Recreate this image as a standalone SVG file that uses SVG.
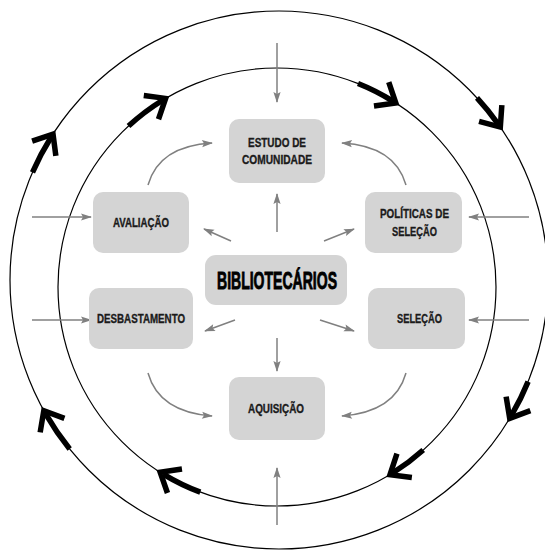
<svg xmlns="http://www.w3.org/2000/svg" width="545" height="550" viewBox="0 0 545 550">
<style>
.ring{fill:none;stroke:#000;stroke-width:1.2}
.flow{fill:none;stroke:#000;stroke-width:5.5;marker-end:url(#chev)}
.g{fill:none;stroke:#808080;stroke-width:1.5;marker-end:url(#ga)}
.box{fill:#d4d4d4}
.t{font-family:"Liberation Sans Narrow","Liberation Sans",Arial,sans-serif;font-weight:bold;font-size:13px;fill:#1a1a1a;stroke:#1a1a1a;stroke-width:0.35;text-anchor:middle}
.big{font-size:24px;fill:#000;stroke:#000;stroke-width:0.9}
</style>
<defs>
<marker id="ga" markerUnits="userSpaceOnUse" viewBox="-12 -5 14 10" markerWidth="14" markerHeight="10" refX="0" refY="0" orient="auto" overflow="visible">
<path d="M1,0 L-10,-3.6 L-8,0 L-10,3.6 Z" fill="#808080"/>
</marker>
<marker id="chev" markerUnits="userSpaceOnUse" viewBox="-20 -20 40 40" markerWidth="40" markerHeight="40" refX="0" refY="0" orient="auto" overflow="visible">
<path d="M-13,-14 L4,0 L-13,14" fill="none" stroke="#000" stroke-width="5.5" stroke-linejoin="miter" stroke-miterlimit="6"/>
</marker>
</defs>

<g id="rings">
<circle class="ring" cx="279" cy="280" r="269"/>
<circle class="ring" cx="277" cy="287" r="219"/>
</g>

<g id="connectors">
<path class="flow" d="M128.5,126.1 A219,219 0 0 1 162.2,100.5"/>
<path class="flow" d="M358.0,83.5 A219,219 0 0 1 392.4,100.9"/>
<path class="flow" d="M423.2,450.0 A219,219 0 0 1 393.4,472.5"/>
<path class="flow" d="M200.3,492.1 A219,219 0 0 1 163.6,474.3"/>
<path class="flow" d="M32.5,172.3 A269,269 0 0 1 50.9,137.5"/>
<path class="flow" d="M477.0,97.9 A269,269 0 0 1 498.0,123.8"/>
<path class="flow" d="M528.1,381.6 A269,269 0 0 1 511.7,414.9"/>
<path class="flow" d="M69.7,448.9 A269,269 0 0 1 45.8,414.1"/>
<path class="g" d="M277,43 L277,102"/>
<path class="g" d="M277,525 L277,468"/>
<path class="g" d="M32,217 L91,217"/>
<path class="g" d="M32,320 L91,320"/>
<path class="g" d="M529,217 L469,217"/>
<path class="g" d="M529,320 L469,320"/>
<path class="g" d="M277,232 L277,194"/>
<path class="g" d="M277,338 L277,371"/>
<path class="g" d="M231,241 L204,229"/>
<path class="g" d="M324,241 L354,229"/>
<path class="g" d="M235,320 L205,331"/>
<path class="g" d="M320,320 L354,331"/>
<path class="g" d="M148,185 Q159,146 212,143"/>
<path class="g" d="M406,185 Q395,146 342,143"/>
<path class="g" d="M148,373 Q159,412 212,416"/>
<path class="g" d="M406,373 Q395,412 342,416"/>
</g>

<g id="bibliotecarios">
<rect class="box" x="205" y="255" width="142" height="50" rx="11"/>
<text class="t big" x="277" y="288.5" textLength="120" lengthAdjust="spacingAndGlyphs">BIBLIOTECÁRIOS</text>
</g>
<g id="estudo">
<rect class="box" x="229" y="119" width="96" height="64" rx="10"/>
<text class="t" x="277" y="147" textLength="58" lengthAdjust="spacingAndGlyphs">ESTUDO DE</text>
<text class="t" x="277" y="164" textLength="70" lengthAdjust="spacingAndGlyphs">COMUNIDADE</text>
</g>
<g id="avaliacao">
<rect class="box" x="93" y="192" width="96" height="61" rx="10"/>
<text class="t" x="141" y="226.7" textLength="56" lengthAdjust="spacingAndGlyphs">AVALIAÇÃO</text>
</g>
<g id="politicas">
<rect class="box" x="365" y="192" width="97" height="61" rx="10"/>
<text class="t" x="414.5" y="218.3" textLength="69" lengthAdjust="spacingAndGlyphs">POLÍTICAS DE</text>
<text class="t" x="414.5" y="236" textLength="45" lengthAdjust="spacingAndGlyphs">SELEÇÃO</text>
</g>
<g id="desbastamento">
<rect class="box" x="89" y="288" width="104" height="61" rx="10"/>
<text class="t" x="141" y="322.7" textLength="88" lengthAdjust="spacingAndGlyphs">DESBASTAMENTO</text>
</g>
<g id="selecao">
<rect class="box" x="368" y="288" width="97" height="61" rx="10"/>
<text class="t" x="419.5" y="322.7" textLength="45" lengthAdjust="spacingAndGlyphs">SELEÇÃO</text>
</g>
<g id="aquisicao">
<rect class="box" x="229" y="377" width="96" height="63" rx="10"/>
<text class="t" x="276" y="413.3" textLength="56" lengthAdjust="spacingAndGlyphs">AQUISIÇÃO</text>
</g>
</svg>
